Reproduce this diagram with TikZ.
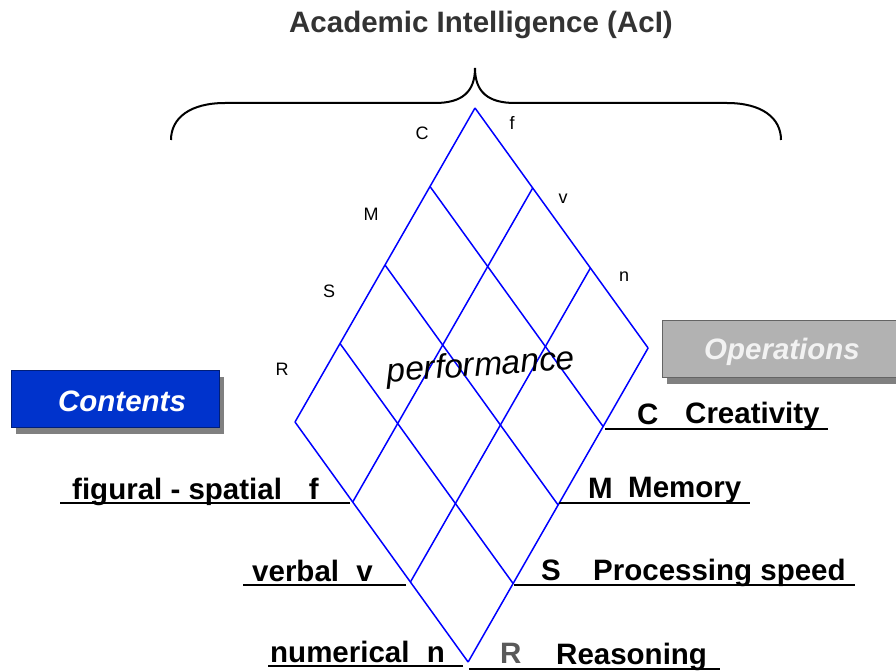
\documentclass[tikz,border=0pt]{standalone}
\usepackage{fontspec}
\setmainfont{Liberation Sans}
\usetikzlibrary{shadows}
\definecolor{gridblue}{RGB}{0,0,255}
\definecolor{boxblue}{RGB}{0,51,204}
\definecolor{boxnavy}{RGB}{0,30,120}
\definecolor{boxgray}{RGB}{178,178,178}
\definecolor{boxedge}{RGB}{100,100,100}
\definecolor{shadegray}{RGB}{128,128,128}
\definecolor{titlegray}{RGB}{51,51,51}
\definecolor{opstext}{RGB}{242,242,242}
\begin{document}
\begin{tikzpicture}[x=1pt,y=-1pt,
  gridline/.style={color=gridblue,line width=1.5pt},
  underline/.style={color=black,line width=2pt},
  dimlabel/.style={font=\fontsize{18}{18}\selectfont,inner sep=0pt},
  biglabel/.style={font=\fontsize{29.5}{30}\selectfont\bfseries,inner sep=0pt},
  boxlabel/.style={font=\fontsize{29.5}{30}\selectfont\bfseries\itshape,
    minimum height=57pt,inner sep=0pt,text depth=0pt,
    drop shadow={shadow xshift=5pt,shadow yshift=-7pt,fill=shadegray,opacity=1}}]
\useasboundingbox (0,0) rectangle (896,671);
\def\ax{-45}
\def\ay{78.5}
\def\bx{57.7}
\def\by{80}

% title and brace
\node[font=\fontsize{29.5}{30}\selectfont\bfseries,text=titlegray] (title) at (481,25) {Academic Intelligence (AcI)};
\draw[line width=2pt] (171,140) .. controls (171,118) and (190,103) .. (225,103) -- (435,103)
  .. controls (462,103) and (475,92) .. (475,68) .. controls (475,92) and (488,103) .. (515,103)
  -- (727,103) .. controls (762,103) and (781,118) .. (781,140);

% the grid
\foreach \i in {0,...,4}
  \draw[gridline] (475+\i*\ax,108+\i*\ay) -- ++(3*\bx,3*\by);
\foreach \j in {0,...,3}
  \draw[gridline] (475+\j*\bx,108+\j*\by) -- ++(4*\ax,4*\ay);
\node[font=\fontsize{33.5}{34}\selectfont\itshape,rotate=4,inner sep=0pt] (perf) at (481,367) {performance};

% small labels along the top edges
\node[dimlabel] (c1) at (422,133) {C};
\node[dimlabel] (m1) at (371,214) {M};
\node[dimlabel] (s1) at (329,291) {S};
\node[dimlabel] (r1) at (282,369) {R};
\node[dimlabel] (f1) at (512,123) {f};
\node[dimlabel] (v1) at (563,199) {v};
\node[dimlabel] (n1) at (624,277) {n};

% boxes
\node[boxlabel,fill=boxblue,draw=boxnavy,line width=1pt,text=white,text height=26pt,minimum width=208pt] (contents) at (115,398.5) {\hspace*{14pt}Contents};
\node[boxlabel,fill=boxgray,draw=boxedge,line width=1pt,text=opstext,text height=22pt,minimum width=240pt] (operations) at (782,348.5) {Operations};

% contents
\draw[underline] (350,503) -- (60,503);
\draw[underline] (406,585) -- (243,585);
\draw[underline] (463,666) -- (268,666);
\node[biglabel,anchor=base west] (figural) at (72,499) {figural - spatial};
\node[biglabel,anchor=base east] (fl) at (319,499) {f};
\node[biglabel,anchor=base west] (verbal) at (252,581) {verbal};
\node[biglabel,anchor=base east] (vl) at (373,581) {v};
\node[biglabel,anchor=base west] (numerical) at (270,662) {numerical};
\node[biglabel,anchor=base east] (nl) at (445,662) {n};

% operations
\draw[underline] (605,429) -- (828,429);
\draw[underline] (559,503) -- (750,503);
\draw[underline] (514,585) -- (855,585);
\draw[underline] (469,669) -- (720,669);
\node[biglabel,anchor=base west] (cl) at (637,424) {C};
\node[biglabel,anchor=base west] (creativity) at (685,423) {Creativity};
\node[biglabel,anchor=base west] (ml) at (588,498) {M};
\node[biglabel,anchor=base west] (memory) at (628,497) {Memory};
\node[biglabel,anchor=base west] (sl) at (541,580) {S};
\node[biglabel,anchor=base west] (processing) at (593,580) {Processing speed};
\node[biglabel,anchor=base west,text=shadegray!70!black] (rl) at (500,663) {R};
\node[biglabel,anchor=base west] (reasoning) at (556,664) {Reasoning};
\end{tikzpicture}
\end{document}
